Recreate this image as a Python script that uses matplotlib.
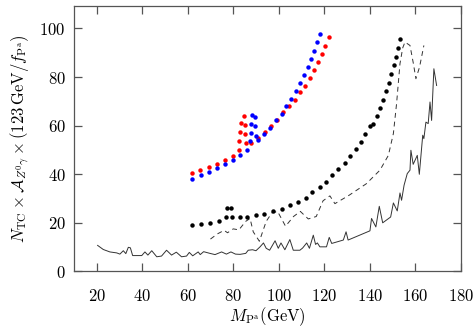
import matplotlib
matplotlib.use("Agg")
import matplotlib.pyplot as plt

plt.rcParams['font.family'] = 'serif'
plt.rcParams['font.serif'] = ['cmr10', 'DejaVu Serif']
plt.rcParams['mathtext.fontset'] = 'cm'
plt.rcParams['axes.formatter.use_mathtext'] = True

# red dots
red_x = [61.7, 65.5, 69.3, 73.0, 76.5, 79.9, 82.5, 82.7, 83.0, 83.3, 84.9, 85.3, 85.5, 85.3,
         87.8, 91.0, 94.1, 96.7, 99.1, 101.9, 104.5, 107.1, 109.5, 111.7, 113.6, 115.4,
         117.3, 118.9, 120.5, 121.9]
red_y = [40.5, 41.6, 42.9, 44.3, 45.8, 47.5, 50.1, 53.6, 57.2, 60.9, 63.8, 56.4, 52.8, 60.1,
         53.0, 55.0, 57.3, 60.0, 62.4, 65.4, 68.0, 70.7, 73.7, 76.4, 79.7, 82.8,
         86.0, 89.4, 92.9, 96.3]

# blue dots
blue_x = [61.9, 65.7, 69.3, 72.9, 76.4, 79.8, 83.0, 86.2, 87.2, 87.7, 87.9, 88.1, 89.6, 89.7,
          90.0, 90.7, 93.6, 96.3, 98.8, 101.3, 103.2, 105.5, 107.6, 109.5, 111.0, 112.7,
          114.0, 115.4, 116.8, 118.1]
blue_y = [38.1, 39.5, 40.9, 42.4, 44.0, 45.8, 47.9, 50.1, 53.5, 57.1, 60.8, 64.3, 63.4, 59.7,
          55.8, 53.9, 56.4, 59.0, 62.1, 64.9, 67.9, 70.9, 74.2, 77.4, 80.8, 84.1,
          87.5, 90.9, 94.4, 97.8]

# black dots
black_x = [61.9, 65.8, 69.6, 73.6, 76.8, 77.3, 78.9, 79.5, 83.0, 86.2, 90.0, 93.5, 97.6,
           101.3, 104.8, 108.5, 111.9, 114.7, 118.0, 120.9, 123.4, 126.2, 129.0, 131.5,
           133.8, 136.0, 138.0, 140.0, 141.3, 143.1, 144.5, 145.8, 147.1, 148.3, 149.5,
           150.5, 151.4, 152.4, 153.2]
black_y = [19.1, 19.5, 20.0, 20.6, 22.2, 25.9, 26.0, 22.3, 22.3, 22.3, 23.2, 23.6, 24.6,
           25.6, 27.2, 28.5, 30.3, 32.5, 34.7, 36.8, 39.5, 42.0, 44.6, 47.4,
           50.3, 53.4, 56.5, 59.8, 60.6, 63.8, 67.2, 70.7, 74.1, 77.6, 81.2,
           84.8, 88.4, 91.8, 95.5]

# dashed curve
dash_x = [70.0, 73.0, 76.0, 77.5, 80.0, 82.5, 85.5, 87.4, 88.8, 91.5, 94.5, 97.0, 99.5, 103.0,
          106.5, 109.5, 113.0, 116.5, 119.5, 122.5, 124.7, 131.0, 138.5, 144.5, 148.2, 150.4,
          151.8, 153.3, 154.5, 155.5, 157.7, 159.2, 160.3, 161.9, 163.8]
dash_y = [13.2, 15.3, 16.8, 15.8, 17.4, 17.0, 20.5, 21.7, 16.2, 12.3, 20.5, 24.0, 24.6, 18.5,
          22.5, 24.6, 21.5, 22.5, 29.0, 31.0, 27.8, 31.3, 36.0, 41.6, 47.7, 56.7,
          69.0, 85.5, 92.0, 94.4, 93.0, 85.5, 79.3, 84.1, 93.0]

# solid curve
solid_x = [20.4, 22.9, 25.8, 28.8, 30.2, 31.7, 32.8, 33.9, 34.8, 35.8, 39.8, 41.2, 42.5, 44.2,
           46.4, 48.5, 50.7, 52.9, 55.0, 57.3, 59.5, 60.7, 62.2, 64.6, 65.5, 67.0, 69.8,
           72.0, 74.9, 77.0, 79.0, 81.0, 83.0, 85.5, 86.6, 88.5, 90.0, 91.8, 93.3, 94.5,
           96.0, 98.4, 99.8, 101.0, 102.7, 104.9, 106.4, 109.3, 110.5, 112.3, 113.5, 115.2,
           116.2, 117.0, 118.1, 121.0, 122.2, 123.3, 128.4, 129.6, 130.5, 140.1, 140.8, 142.7,
           144.2, 145.7, 149.2, 150.4, 152.1, 153.3, 154.0, 155.1, 156.5, 157.7, 158.1, 159.1,
           160.9, 161.8, 163.3, 163.8, 164.7, 165.7, 166.5, 167.2, 168.2, 169.4]
solid_y = [10.6, 8.9, 7.9, 7.5, 7.0, 8.4, 7.2, 9.8, 9.6, 6.4, 6.4, 7.9, 6.6, 8.4,
           5.9, 6.2, 8.6, 6.6, 7.8, 5.9, 6.2, 7.7, 6.3, 7.9, 6.8, 8.0, 7.3,
           6.8, 7.9, 7.0, 7.9, 7.0, 6.9, 7.3, 8.6, 8.8, 8.4, 10.0, 11.6, 9.4,
           8.6, 12.5, 9.4, 11.6, 8.8, 13.0, 8.6, 8.6, 9.5, 11.6, 9.4, 14.8,
           11.0, 11.6, 10.0, 10.0, 13.9, 11.4, 12.8, 16.2, 12.8, 16.6, 21.7, 18.2,
           26.7, 19.9, 22.3, 28.1, 24.8, 32.2, 29.2, 35.4, 40.2, 41.6, 49.8, 44.0,
           47.7, 39.9, 56.0, 54.6, 61.4, 60.8, 69.7, 62.1, 83.4, 76.5]

fig = plt.figure(figsize=(4.74, 3.29), dpi=100)
ax = fig.add_axes([0.156, 0.176, 0.816, 0.806])

ax.plot(solid_x, solid_y, '-', color='#333333', lw=0.7)
ax.plot(dash_x, dash_y, '--', color='#333333', lw=0.7, dashes=(5, 4))
ax.plot(black_x, black_y, 'o', color='black', ms=3.2, mew=0)
ax.plot(red_x, red_y, 'o', color='#ff0000', ms=3.2, mew=0)
ax.plot(blue_x, blue_y, 'o', color='#0000ff', ms=3.2, mew=0)

ax.set_xlim(10, 180)
ax.set_ylim(0, 109.3)
ax.set_xticks(range(20, 181, 20))
ax.set_yticks(range(0, 101, 20))
ax.tick_params(direction='in', top=True, right=True, length=6, width=0.9,
               color='#555555', labelsize=12)
ax.tick_params(axis='x', pad=12)
ax.tick_params(axis='y', pad=6)
for s in ax.spines.values():
    s.set_color('#555555')
    s.set_linewidth(0.9)

ax.set_xlabel(r'$M_{\rm P^a}({\rm GeV})$', fontsize=12, labelpad=1)
ax.set_ylabel(r'$N_{\rm TC}\times\mathcal{A}_{Z^0\gamma}\times(123\,{\rm GeV}/f_{\rm P^a})$',
              fontsize=12, labelpad=6)

fig.savefig('out.png', dpi=100)
